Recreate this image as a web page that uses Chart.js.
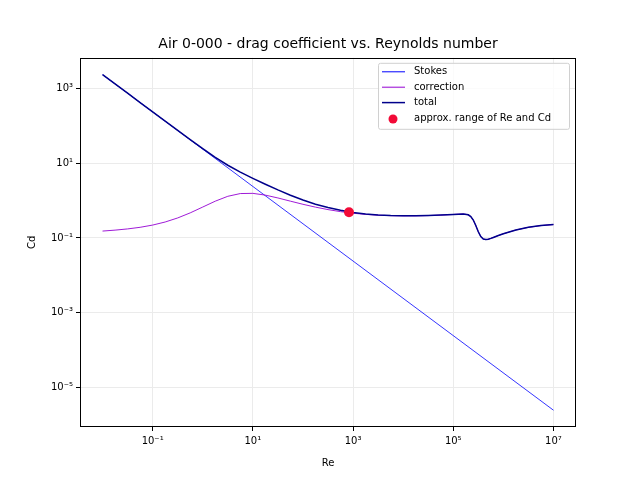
<!DOCTYPE html>
<html lang="en">

<head>
    <meta charset="UTF-8">
    <title>Drag coefficient</title>
    <style>
        body { margin: 0; background: #fff; }
    </style>
</head>

<body>
    <canvas id="myChart" width="640" height="480"></canvas>

    <script src="https://cdn.jsdelivr.net/npm/chart.js@4.4.0/dist/chart.umd.min.js"></script>
    <script>
        // Reynolds numbers sampled along the curves
        const reValues = [0.01, 0.01778, 0.03162, 0.05623, 0.1, 0.1778, 0.3162, 0.5623,
            1, 1.778, 3.162, 5.623, 10, 17.78, 31.62, 56.23, 100, 177.8, 316.2, 562.3,
            1000, 1778, 3162, 5623, 10000, 17783, 31623, 56234, 100000, 125893, 158489,
            199526, 223872, 251189, 281838, 316228, 354813, 398107, 446684, 501187,
            562341, 630957, 794328, 1000000, 1778279, 3162278, 5623413, 10000000];

        const correctionCd = [0.1527, 0.1618, 0.1744, 0.1927, 0.2212, 0.2671, 0.3435, 0.47,
            0.673, 0.967, 1.3058, 1.5476, 1.5676, 1.4048, 1.1788, 0.9681, 0.7981, 0.6694, 0.5749, 0.5071,
            0.4597, 0.4275, 0.407, 0.3953, 0.3902, 0.391, 0.3971, 0.4083, 0.4253, 0.4334, 0.4381,
            0.4164, 0.3747, 0.3018, 0.2145, 0.1458, 0.1083, 0.0933, 0.0902, 0.0924,
            0.0971, 0.1029, 0.1159, 0.1296, 0.1634, 0.1924, 0.2141, 0.2287];

        const totalCd = [2400.15, 1349.8, 759.1, 427.0, 240.22, 135.23, 76.24, 43.15,
            24.67, 14.46, 8.895, 5.815, 3.968, 2.754, 1.938, 1.395, 1.038, 0.8044, 0.6508, 0.5498,
            0.4837, 0.441, 0.4146, 0.3996, 0.3926, 0.3924, 0.3979, 0.4087, 0.4255, 0.4336, 0.4383,
            0.4165, 0.3748, 0.3019, 0.2146, 0.1459, 0.1084, 0.0934, 0.0902, 0.0924,
            0.0971, 0.1029, 0.1159, 0.1296, 0.1634, 0.1924, 0.2141, 0.2287];

        const stokesRe = [0.01, 10000000];
        const stokesCd = [2400, 0.0000024];

        const pointRe = [830];
        const pointCd = [0.49];

        const xTickValues = [0.1, 10, 1000, 100000, 10000000];
        const xTickLabels = ['10⁻¹', '10¹', '10³', '10⁵', '10⁷'];
        const yTickValues = [0.00001, 0.001, 0.1, 10, 1000];
        const yTickLabels = ['10⁻⁵', '10⁻³', '10⁻¹', '10¹', '10³'];

        const legendItems = [
            { label: 'Stokes', color: '#0000ff', width: 1, type: 'line' },
            { label: 'correction', color: '#9400d3', width: 1, type: 'line' },
            { label: 'total', color: '#00008b', width: 1.5, type: 'line' },
            { label: 'approx. range of Re and Cd', color: '#f20a37', type: 'dot' }
        ];

        const toXY = (xs, ys) => xs.map((x, i) => ({ x: x, y: ys[i] }));
        const FONT = 'DejaVu Sans';

        const frame = {
            id: 'frame',
            afterDatasetsDraw(chart) {
                const a = chart.chartArea;
                const c = chart.ctx;
                c.save();
                c.strokeStyle = '#000';
                c.lineWidth = 1;
                c.strokeRect(Math.round(a.left) + 0.5, Math.round(a.top) + 0.5,
                    Math.round(a.right - a.left) - 1, Math.round(a.bottom - a.top) - 1);

                // legend box
                const bx = a.right - 198, by = a.top + 5, bw = 191, bh = 66;
                c.fillStyle = 'rgba(255,255,255,0.8)';
                c.strokeStyle = '#d0d0d0';
                c.beginPath();
                c.roundRect(bx + 0.5, by + 0.5, bw, bh, 2);
                c.fill();
                c.stroke();
                c.font = '10px "' + FONT + '"';
                c.textBaseline = 'middle';
                c.textAlign = 'left';
                legendItems.forEach((it, i) => {
                    const y = by + 9 + i * 15.4;
                    if (it.type === 'line') {
                        c.strokeStyle = it.color;
                        c.lineWidth = it.width;
                        c.beginPath();
                        c.moveTo(bx + 4, y);
                        c.lineTo(bx + 27, y);
                        c.stroke();
                    } else {
                        c.fillStyle = it.color;
                        c.beginPath();
                        c.arc(bx + 15, y + 1, 4.5, 0, Math.PI * 2);
                        c.fill();
                    }
                    c.fillStyle = '#000';
                    c.fillText(it.label, bx + 36, y);
                });
                c.restore();
            }
        };

        const ctx = document.getElementById('myChart');
        const chart = new Chart(ctx, {
            type: 'scatter',
            data: {
                datasets: [
                    {
                        label: 'approx. range of Re and Cd',
                        data: toXY(pointRe, pointCd),
                        backgroundColor: '#f20a37',
                        borderWidth: 0,
                        pointRadius: 5,
                        order: 0
                    },
                    {
                        label: 'total',
                        data: toXY(reValues, totalCd),
                        showLine: true,
                        borderColor: '#00008b',
                        borderWidth: 1.5,
                        pointRadius: 0,
                        tension: 0,
                        order: 1
                    },
                    {
                        label: 'correction',
                        data: toXY(reValues, correctionCd),
                        showLine: true,
                        borderColor: '#9400d3',
                        borderWidth: 0.9,
                        pointRadius: 0,
                        tension: 0,
                        order: 2
                    },
                    {
                        label: 'Stokes',
                        data: toXY(stokesRe, stokesCd),
                        showLine: true,
                        borderColor: '#0000ff',
                        borderWidth: 0.8,
                        pointRadius: 0,
                        order: 3
                    }
                ]
            },
            options: {
                responsive: false,
                animation: false,
                layout: { padding: { left: 0, right: 64, top: 0, bottom: 0 } },
                plugins: {
                    legend: { display: false },
                    tooltip: { enabled: false },
                    title: {
                        display: true,
                        fullSize: false,
                        text: 'Air 0-000 - drag coefficient vs. Reynolds number',
                        color: '#000',
                        font: { family: FONT, size: 14, weight: 'normal' },
                        padding: { top: 36, bottom: 5 }
                    }
                },
                scales: {
                    x: {
                        type: 'logarithmic',
                        min: Math.pow(10, -2.45),
                        max: Math.pow(10, 7.45),
                        afterBuildTicks: s => { s.ticks = xTickValues.map(v => ({ value: v })); },
                        afterFit: s => { s.height = 53; },
                        ticks: {
                            color: '#000',
                            font: { family: FONT, size: 10 },
                            padding: 4,
                            maxRotation: 0,
                            callback: v => xTickLabels[xTickValues.indexOf(v)]
                        },
                        grid: { color: '#ebebeb', tickColor: '#000', tickLength: 4, lineWidth: 1 },
                        border: { display: false },
                        title: {
                            display: true, text: 'Re', color: '#000',
                            font: { family: FONT, size: 10 },
                            padding: { top: 0, bottom: 11 }
                        }
                    },
                    y: {
                        type: 'logarithmic',
                        min: Math.pow(10, -6.07),
                        max: Math.pow(10, 3.83),
                        afterBuildTicks: s => { s.ticks = yTickValues.map(v => ({ value: v })); },
                        afterFit: s => { s.width = 80; },
                        ticks: {
                            color: '#000',
                            font: { family: FONT, size: 10 },
                            padding: 3,
                            callback: v => yTickLabels[yTickValues.indexOf(v)]
                        },
                        grid: { color: '#ebebeb', tickColor: '#000', tickLength: 4, lineWidth: 1 },
                        border: { display: false },
                        title: {
                            display: true, text: 'Cd', color: '#000',
                            font: { family: FONT, size: 10 },
                            padding: { top: 26, bottom: 0 }
                        }
                    }
                }
            },
            plugins: [frame]
        });
    </script>

</body>

</html>
